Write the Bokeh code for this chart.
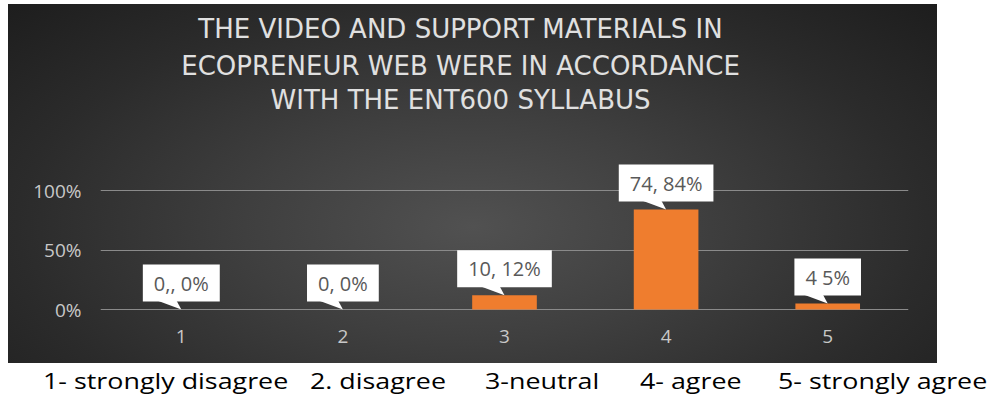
from bokeh.plotting import figure
from bokeh.models import Range1d, FixedTicker, NumeralTickFormatter, Label, Div, ColumnDataSource
from bokeh.layouts import column
from bokeh.embed import file_html
from bokeh.resources import INLINE
from bokeh.core.properties import value

# ---------------- data ----------------
categories = [1, 2, 3, 4, 5]
counts = [0, 0, 10, 74, 4]
percents = [0, 0, 12, 84, 5]
callout_labels = ["0,, 0%", "0, 0%", "10, 12%", "74, 84%", "4 5%"]
y_ticks = [0, 0.5, 1.0]
title_lines = ["THE VIDEO AND SUPPORT MATERIALS IN",
               "ECOPRENEUR WEB WERE IN ACCORDANCE",
               "WITH THE ENT600 SYLLABUS"]
caption_items = ["1- strongly disagree", "2. disagree", "3-neutral", "4- agree", "5- strongly agree"]

# ---------------- layout constants ----------------
PX = 119.0                     # pixels per 100%
caption_left = [43, 310, 485, 640, 778]
title_y = [2.355, 2.045, 1.76]
title_x = 2.728

share = [v / 100 for v in percents]
src = ColumnDataSource(dict(
    x=categories, share=share, count=counts, label=callout_labels,
    px=[[c - 0.15, c - 0.03, c] for c in categories],
    py=[[s + 9 / PX, s + 9 / PX, s] for s in share],
))

p = figure(frame_width=808, frame_height=316,
           min_border_left=92, min_border_right=29, min_border_top=0, min_border_bottom=43,
           x_range=Range1d(0.5, 5.5), y_range=Range1d(-11 / PX, 305 / PX),
           output_backend="svg", toolbar_location=None)
p.margin = (4, 0, 0, 8)

p.background_fill_alpha = 0
p.border_fill_alpha = 0
p.outline_line_color = None
p.styles = {"background": "radial-gradient(ellipse 70% 90% at 50% 62%, #515151 0%, #3f3f3f 35%, #2b2b2b 70%, #1d1d1d 100%)"}

# grid
p.xgrid.grid_line_color = None
p.ygrid.grid_line_color = "#8a8a8a"
p.ygrid.grid_line_width = 1
p.yaxis.ticker = FixedTicker(ticks=y_ticks)
p.xaxis.ticker = FixedTicker(ticks=categories)
p.yaxis.formatter = NumeralTickFormatter(format="0%")

for ax in (p.xaxis, p.yaxis):
    ax.axis_line_color = None
    ax.major_tick_line_color = None
    ax.minor_tick_line_color = None
    ax.major_tick_out = 0
    ax.major_tick_in = 0
    ax.major_label_text_color = "#c8c8c8"
    ax.major_label_text_font = "Open Sans"
    ax.major_label_text_font_size = "19px"
p.yaxis.major_label_standoff = 19
p.xaxis.major_label_standoff = 9

# bars
p.vbar(x="x", top="share", width=0.4, source=src, fill_color="#EF7D2E", line_color=None)

# callouts
p.patches(xs="px", ys="py", source=src, fill_color="white", line_color=None)
p.text(x="x", y="share", text="label", source=src,
       text_align="center", text_baseline="bottom", y_offset=-8,
       text_font=value("Open Sans"), text_font_size="20px", text_color="#595959",
       background_fill_color="white", border_line_color=None, padding=(11, 5))

# title
for t, yy in zip(title_lines, title_y):
    p.add_layout(Label(x=title_x, y=yy, text=t, text_align="center", text_baseline="alphabetic",
                       text_font="DejaVu Sans", text_font_size="26px", text_color="#e0e0e0"))

spans = "".join(
    f'<span style="position:absolute;left:{l}px;top:6px;white-space:nowrap;'
    f'transform:scaleX(1.22);transform-origin:left center">{t}</span>'
    for t, l in zip(caption_items, caption_left))
caption = Div(text=f'<div style="position:relative;width:1000px;height:36px;font-family:\'Open Sans\';'
                   f'font-size:22px;line-height:1;color:#000">{spans}</div>',
              width=1000, height=36, margin=(0, 0, 0, 0))

layout = column(p, caption)
open("out.html", "w").write(file_html(layout, INLINE))
